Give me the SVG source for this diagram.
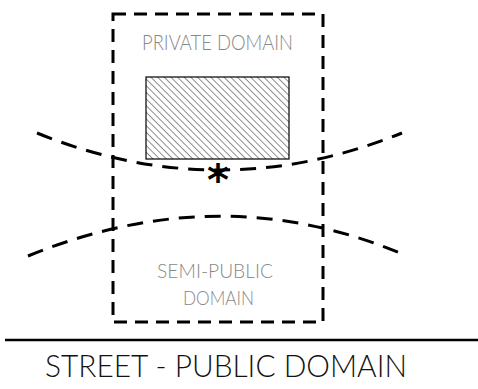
<svg xmlns="http://www.w3.org/2000/svg" width="478" height="389" viewBox="0 0 478 389">
<style>
.lbl{font-family:Lato,"Open Sans","Liberation Sans",sans-serif;font-weight:300;fill:#888;}
.st{font-family:Lato,"Open Sans","Liberation Sans",sans-serif;font-weight:300;fill:#111;}
.dash{fill:none;stroke:#000;stroke-width:3;}
</style>
<defs>
<pattern id="hatch" patternUnits="userSpaceOnUse" width="4.7" height="10" patternTransform="rotate(-45)">
<line x1="0" y1="0" x2="0" y2="10" stroke="#000" stroke-width="0.9"/>
</pattern>
</defs>
<rect width="478" height="389" fill="#fff"/>
<g id="connectors">
<path class="dash" d="M37,133 Q219,207 402,133" stroke-dasharray="16 10"/>
<path class="dash" d="M28,256 Q219,178 400,253" stroke-dasharray="16 10"/>
<line x1="5" y1="340" x2="478" y2="340" stroke="#000" stroke-width="2.5"/>
</g>
<g id="private-domain">
<rect class="dash" x="113" y="14" width="210" height="308" stroke-dasharray="13 8"/>
<text class="lbl" x="142" y="50" font-size="21" textLength="151" lengthAdjust="spacingAndGlyphs">PRIVATE DOMAIN</text>
</g>
<g id="building">
<rect x="146" y="77" width="143" height="82" fill="url(#hatch)" stroke="#000" stroke-width="1.2"/>
</g>
<g id="marker">
<text x="218" y="195" font-family="DejaVu Sans,sans-serif" font-weight="bold" font-size="42" text-anchor="middle" fill="#000">*</text>
</g>
<g id="semi-public">
<text class="lbl" x="157" y="278" font-size="20" textLength="116" lengthAdjust="spacingAndGlyphs">SEMI-PUBLIC</text>
<text class="lbl" x="183" y="305" font-size="20" textLength="71" lengthAdjust="spacingAndGlyphs">DOMAIN</text>
</g>
<g id="street">
<text class="st" x="45" y="377" font-size="32" textLength="362" lengthAdjust="spacingAndGlyphs">STREET - PUBLIC DOMAIN</text>
</g>
</svg>
